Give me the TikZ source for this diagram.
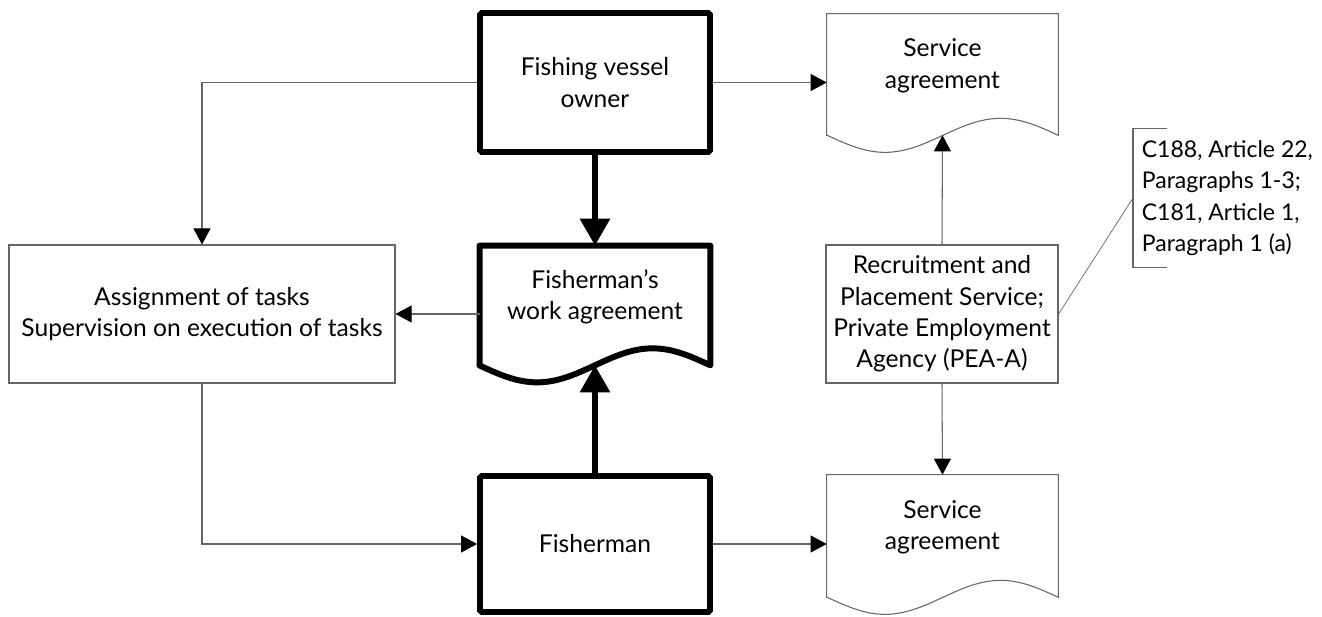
\documentclass[tikz,border=0pt]{standalone}
\usepackage{fontspec}
\setmainfont{Lato}
\usepackage{tikz}
\usetikzlibrary{arrows.meta}

\tikzset{
  box/.style={draw=black!60, line width=0.6pt, align=center, inner sep=2pt},
  heavybox/.style={draw=black, line width=3.4pt, rounded corners=1pt, align=center,
    minimum width=4.6cm},
  docnode/.style={align=center, inner sep=2pt, minimum width=4.62cm},
  conn/.style={draw=black!60, line width=0.6pt,
    -{Triangle[color=black, length=0.32cm, width=0.34cm]}},
  heavyconn/.style={draw=black, line width=3.4pt,
    -{Triangle[length=0.54cm, width=0.58cm]}},
}

% outline of a document shape round a node
\newcommand{\docoutline}[2]{%
  \draw[#2] ([yshift=-0.34cm]#1.south west) -- (#1.north west) -- (#1.north east)
    -- ([yshift=-0.34cm]#1.south east) sin ++(-1.155,0.34) cos ++(-1.155,-0.34)
    sin ++(-1.155,-0.34) cos ++(-1.155,0.34) -- cycle;}

\begin{document}
\begin{tikzpicture}[font=\fontsize{14}{17.9}\selectfont]

\useasboundingbox (0,0) rectangle (26.44,12.32);

\node[heavybox, minimum height=2.78cm] (owner) at (11.9,10.67) {Fishing vessel\\owner};
\node[docnode, minimum height=2.04cm, minimum width=4.6cm] (workdoc) at (11.9,6.38) {Fisherman's\\work agreement};
\docoutline{workdoc}{draw=black, line width=3.4pt, line join=round}
\node[heavybox, minimum height=2.72cm] (fisher) at (11.9,1.44) {Fisherman};

\node[box, minimum width=7.72cm, minimum height=2.76cm] (task) at (4.04,6.04)
  {Assignment of tasks\\Supervision on execution of tasks};
\node[box, minimum width=4.64cm, minimum height=2.76cm] (rec) at (18.84,6.04)
  {Recruitment and\\Placement Service;\\Private Employment\\Agency (PEA-A)};

\node[docnode, minimum height=2.08cm] (svc1) at (18.85,11.0) {Service\\agreement};
\docoutline{svc1}{draw=black!60, line width=0.6pt}
\node[docnode, minimum height=2.1cm] (svc2) at (18.85,1.77) {Service\\agreement};
\docoutline{svc2}{draw=black!60, line width=0.6pt}

\node[align=left, anchor=west, inner sep=0.17cm, minimum height=2.76cm,
  font=\fontsize{13.1}{17.9}\selectfont] (note) at (22.66,8.36)
  {C188, Article 22,\\Paragraphs 1-3;\\C181, Article 1,\\Paragraph 1 (a)};
\draw[draw=black!60, line width=0.6pt] ([xshift=0.68cm]note.north west) -- (note.north west)
  -- (note.south west) -- ([xshift=0.68cm]note.south west);

% connectors
\draw[heavyconn] (owner.south) -- (workdoc.north);
\draw[heavyconn] (fisher.north) -- ([yshift=-0.34cm]workdoc.south);
\draw[conn] (owner.west) -| (task.north);
\draw[conn] (owner.east) -- (owner.east -| svc1.west);
\draw[conn] (workdoc.west |- task.east) -- (task.east);
\draw[conn] (task.south) |- (fisher.west);
\draw[conn] (fisher.east) -- (fisher.east -| svc2.west);
\draw[conn] (rec.north) -- ([yshift=-0.34cm]svc1.south);
\draw[conn] (rec.south) -- (svc2.north);
\draw[draw=black!60, line width=0.4pt] (rec.east) -- (note.west);

\end{tikzpicture}
\end{document}
